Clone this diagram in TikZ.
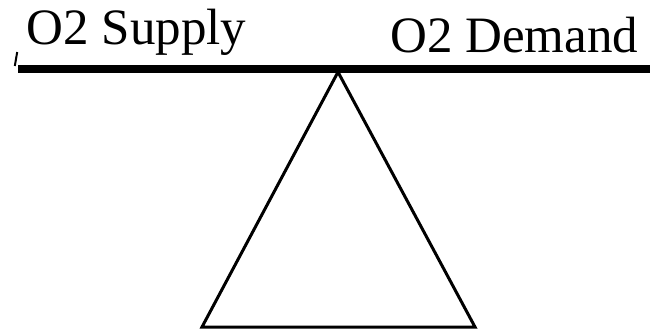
\documentclass[tikz,border=0pt]{standalone}
\usepackage{fontspec}
\setmainfont{Liberation Serif}
\begin{document}
\begin{tikzpicture}[x=1pt,y=-1pt,
  label text/.style={anchor=base west,inner sep=0pt,font=\fontsize{51}{51}\selectfont},
  beam/.style={line width=8pt},
  fulcrum/.style={line width=3pt,line join=miter}]
\useasboundingbox (0,0) rectangle (650,330);
% lever beam with its two ends
\coordinate (beamL) at (18,68.5);
\coordinate (beamR) at (652,68.5);
\draw[beam] (beamL) -- (beamR);
% small tick at the left end
\coordinate (tickA) at (14.8,66);
\coordinate (tickB) at (17.2,52);
\draw[line width=2pt] (tickA) -- (tickB);
% fulcrum triangle
\coordinate (apex) at (338,72);
\coordinate (baseL) at (202,327);
\coordinate (baseR) at (475,327);
\draw[fulcrum] (apex) -- (baseL) -- (baseR) -- cycle;
% labels on the beam
\node[label text] (supply) at (26.5,44) {O2 Supply};
\node[label text] (demand) at (390,52) {O2 Demand};
\end{tikzpicture}
\end{document}
